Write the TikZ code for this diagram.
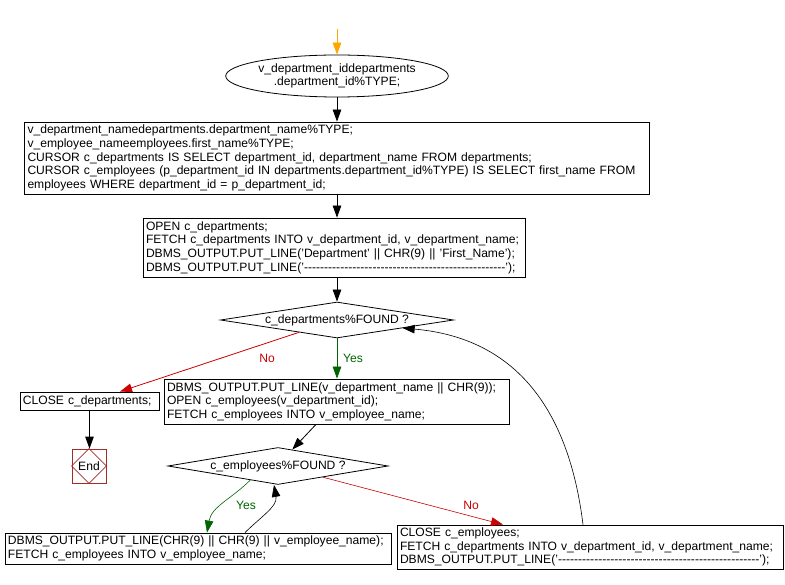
\documentclass[tikz,border=0pt]{standalone}
\usepackage{fontspec}
\setmainfont{Liberation Sans}
\usetikzlibrary{shapes.geometric,arrows.meta,calc}
\definecolor{orng}{HTML}{FFA500}
\definecolor{dgreen}{HTML}{006400}
\definecolor{nored}{HTML}{CC0000}
\definecolor{endred}{HTML}{A52A2A}
\begin{document}
\begin{tikzpicture}[x=1pt,y=-1pt,
  every node/.style={font=\fontsize{12.1}{13.6}\selectfont},
  codebox/.style={draw, line width=0.8pt, rectangle, inner xsep=3pt, inner ysep=0pt, align=left},
  decis/.style={draw, line width=0.8pt, diamond, inner sep=0pt, aspect=6},
  arr/.style={line width=0.8pt, -{Triangle[length=12pt,width=8.5pt]}},
  lbl/.style={inner sep=1pt}]
\useasboundingbox (0,0) rectangle (785,585);

\coordinate (top) at (337,29);
\node[draw, line width=0.8pt, ellipse, minimum width=186pt, minimum height=42pt, inner sep=0pt, align=center] (start) at (337,76)
  {v\_department\_iddepartments\\.department\_id\%TYPE;};

\node[codebox, text width=619pt, minimum height=72pt] (b1) at (337,158)
  {v\_department\_namedepartments.department\_name\%TYPE;\\
   v\_employee\_nameemployees.first\_name\%TYPE;\\
   CURSOR c\_departments IS SELECT department\_id, department\_name FROM departments;\\
   CURSOR c\_employees (p\_department\_id IN departments.department\_id\%TYPE) IS SELECT first\_name FROM\\
   employees WHERE department\_id = p\_department\_id;};

\node[codebox, text width=376pt, minimum height=59pt] (b2) at (334,247.5)
  {OPEN c\_departments;\\
   FETCH c\_departments INTO v\_department\_id, v\_department\_name;\\
   DBMS\_OUTPUT.PUT\_LINE('Department' || CHR(9) || 'First\_Name');\\
   DBMS\_OUTPUT.PUT\_LINE('-{}-{}-{}-{}-{}-{}-{}-{}-{}-{}-{}-{}-{}-{}-{}-{}-{}-{}-{}-{}-{}-{}-{}-{}-{}-{}-{}-{}-{}-{}-{}-{}-{}-{}-{}-{}-{}-{}-{}-{}-{}-{}-{}-{}-{}-{}-{}-{}-{}-');};

\node[decis, minimum width=233pt, minimum height=36pt] (d1) at (337,320) {c\_departments\%FOUND ?};

\node[codebox, text width=133pt, minimum height=18pt] (close) at (89.5,401) {CLOSE c\_departments;};

\node[draw=endred, line width=0.8pt, rectangle, minimum width=34pt, minimum height=34pt, inner sep=0pt] (endn) at (89,466) {End};
\draw[endred, line width=0.6pt] (endn.north) -- (endn.east) -- (endn.south) -- (endn.west) -- cycle;

\node[codebox, text width=339pt, minimum height=45pt] (b3) at (336.5,401.5)
  {DBMS\_OUTPUT.PUT\_LINE(v\_department\_name || CHR(9));\\
   OPEN c\_employees(v\_department\_id);\\
   FETCH c\_employees INTO v\_employee\_name;};

\node[decis, minimum width=220pt, minimum height=37pt] (d2) at (278,466) {c\_employees\%FOUND ?};

\node[codebox, text width=380pt, minimum height=31pt] (b4) at (198,548.5)
  {DBMS\_OUTPUT.PUT\_LINE(CHR(9) || CHR(9) || v\_employee\_name);\\
   FETCH c\_employees INTO v\_employee\_name;};

\node[codebox, text width=380pt, minimum height=44pt] (b5) at (590,547)
  {CLOSE c\_employees;\\
   FETCH c\_departments INTO v\_department\_id, v\_department\_name;\\
   DBMS\_OUTPUT.PUT\_LINE('-{}-{}-{}-{}-{}-{}-{}-{}-{}-{}-{}-{}-{}-{}-{}-{}-{}-{}-{}-{}-{}-{}-{}-{}-{}-{}-{}-{}-{}-{}-{}-{}-{}-{}-{}-{}-{}-{}-{}-{}-{}-{}-{}-{}-{}-{}-{}-{}-{}-');};

% connectors
\draw[arr, orng] (top) -- (start.north);
\draw[arr] (start.south) -- (start.south |- b1.north);
\draw[arr] (b1.south -| start.south) -- (start.south |- b2.north);
\draw[arr] (b2.south -| start.south) -- (d1.north);
\draw[arr, nored] (d1.198) -- ([xshift=30.5pt]close.north);
\node[lbl, text=nored] (no1) at (267,358) {No};
\draw[arr, dgreen] (d1.south) -- (d1.south |- b3.north);
\node[lbl, text=dgreen] (yes1) at (353,358) {Yes};
\draw[arr] (close.south) -- (close.south |- endn.north);
\draw[arr] ([xshift=-20.5pt]b3.south) -- (d2.49);
\draw[arr, dgreen, line width=0.6pt] (d2.207) to[out=-135, in=80] ([xshift=9pt]b4.north);
\node[lbl, text=dgreen] (yes2) at (246,505) {Yes};
\draw[arr, line width=0.6pt] ([xshift=47pt]b4.north) to[out=45, in=-80] ([xshift=-4pt]d2.south);
\draw[arr, nored, line width=0.6pt] (d2.346) -- ([xshift=-87pt]b5.north);
\node[lbl, text=nored] (no2) at (471,505) {No};
\draw[arr, line width=0.6pt] ([xshift=-7pt]b5.north) to[out=97, in=-5, looseness=1.1] (d1.353);
\end{tikzpicture}
\end{document}
